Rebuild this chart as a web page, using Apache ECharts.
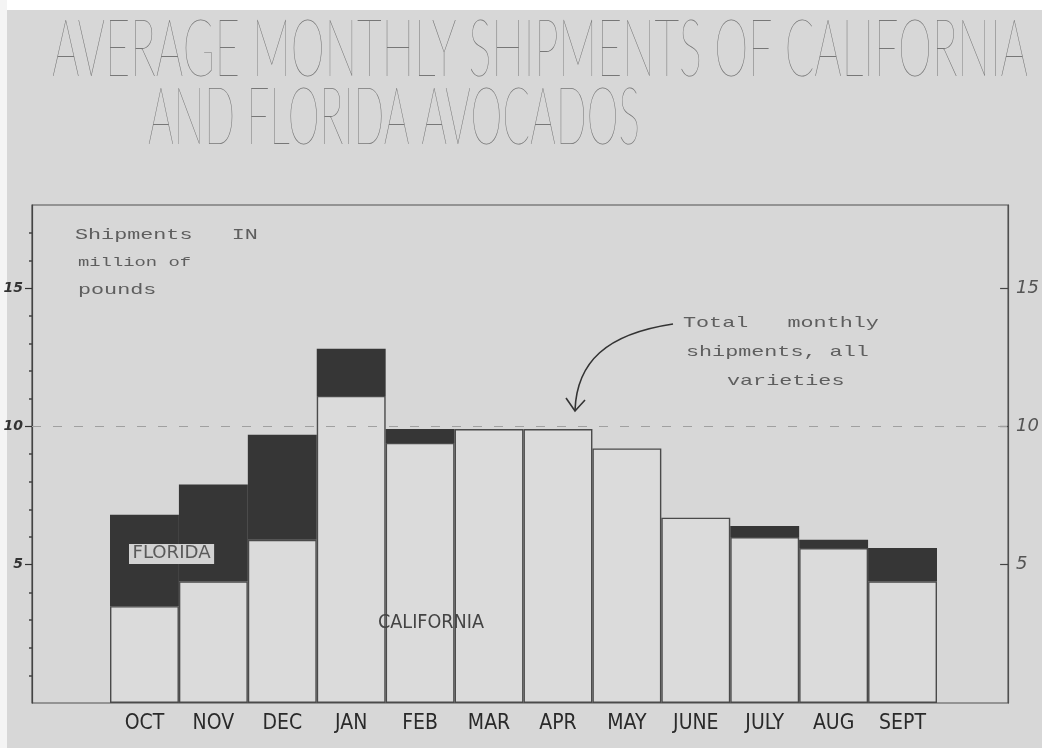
<!DOCTYPE html>
<html>
<head>
<meta charset="utf-8">
<style>
  html, body { margin: 0; padding: 0; background: #d7d7d7; }
  #chart { width: 1042px; height: 748px; }
</style>
<script src="https://cdn.jsdelivr.net/npm/echarts@6/dist/echarts.min.js"></script>
</head>
<body>
<div id="chart"></div>
<script>
// months along the bottom
const months = ['OCT', 'NOV', 'DEC', 'JAN', 'FEB', 'MAR', 'APR', 'MAY', 'JUNE', 'JULY', 'AUG', 'SEPT'];
// million pounds
const california = [3.5, 4.4, 5.9, 11.1, 9.4, 9.9, 9.9, 9.2, 6.7, 6.0, 5.6, 4.4];
const florida = [3.3, 3.5, 3.8, 1.7, 0.5, 0, 0, 0, 0, 0.4, 0.3, 1.2];
const yTicks = [5, 10, 15];

const titleLine1 = 'AVERAGE MONTHLY SHIPMENTS OF CALIFORNIA';
const titleLine2 = 'AND FLORIDA AVOCADOS';
const titleFont = '100 80px Lato';
const narrow = '"DejaVu Sans Condensed", "Liberation Sans Narrow", "Roboto Condensed", "DejaVu Sans", sans-serif';

// squeeze hand-lettered text to the width it takes in the picture
function fitScale(text, font, width) {
    const ctx = document.createElement('canvas').getContext('2d');
    ctx.font = font;
    return width / ctx.measureText(text).width;
}

const myChart = echarts.init(document.getElementById('chart'), null, { renderer: 'canvas' });

const handFont = '15px "Liberation Mono"';
const handColor = '#5e5e5e';
const floridaFont = '17px ' + narrow;
const californiaFont = '19px ' + narrow;

const options = {
    backgroundColor: '#d7d7d7',
    animation: false,
    grid: [
        // outer frame with the value scales
        { left: 32, right: 25, top: 205, bottom: 45, show: true, borderColor: '#505050', borderWidth: 1.2, backgroundColor: 'transparent' },
        // bars sit inside the frame
        { left: 110, right: 105, top: 205, bottom: 45 }
    ],
    xAxis: [
        { gridIndex: 0, type: 'value', min: 0, max: 1, show: false },
        {
            gridIndex: 1,
            type: 'category',
            data: months,
            axisLine: { show: false },
            axisTick: { show: false },
            axisLabel: {
                interval: 0,
                margin: 10,
                color: '#2a2a2a',
                fontFamily: narrow,
                fontSize: 21
            }
        }
    ],
    yAxis: [
        {
            gridIndex: 0,
            type: 'value',
            min: 0,
            max: 18,
            interval: 5,
            position: 'left',
            axisLine: { show: true, lineStyle: { color: '#444', width: 1.2 } },
            axisTick: { show: true, length: 7, customValues: yTicks, lineStyle: { color: '#333', width: 1.2 } },
            minorTick: { show: true, splitNumber: 5, length: 3, lineStyle: { color: '#444', width: 1.5 } },
            splitLine: { show: false },
            axisLabel: {
                margin: 9,
                color: '#333',
                fontStyle: 'italic',
                fontWeight: 'bold',
                fontSize: 14,
                fontFamily: '"DejaVu Sans"',
                customValues: yTicks
            }
        },
        {
            gridIndex: 0,
            type: 'value',
            min: 0,
            max: 18,
            interval: 5,
            position: 'right',
            axisLine: { show: true, lineStyle: { color: '#505050', width: 1.2 } },
            axisTick: { show: true, inside: true, length: 8, customValues: yTicks, lineStyle: { color: '#444', width: 1.2 } },
            splitLine: { show: false },
            axisLabel: {
                margin: 8,
                color: '#555',
                fontStyle: 'italic',
                fontSize: 18,
                fontFamily: '"DejaVu Sans"',
                customValues: yTicks
            }
        },
        { gridIndex: 1, type: 'value', min: 0, max: 18, show: false }
    ],
    series: [
        {
            // holds the faint dashed guide at 10
            type: 'line',
            xAxisIndex: 0,
            yAxisIndex: 0,
            data: [],
            silent: true,
            markLine: {
                silent: true,
                symbol: 'none',
                label: { show: false },
                lineStyle: { color: '#a0a0a0', type: [9, 12], width: 1 },
                data: [{ yAxis: 10 }]
            }
        },
        {
            name: 'California',
            type: 'bar',
            stack: 'total',
            xAxisIndex: 1,
            yAxisIndex: 2,
            barCategoryGap: '0%',
            data: california,
            itemStyle: { color: '#dbdbdb', borderColor: '#4a4a4a', borderWidth: 1.4 }
        },
        {
            name: 'Florida',
            type: 'bar',
            stack: 'total',
            xAxisIndex: 1,
            yAxisIndex: 2,
            barCategoryGap: '0%',
            data: florida,
            itemStyle: { color: '#363636', borderWidth: 0 }
        }
    ],
    graphic: [
        { type: 'rect', left: 0, top: 0, shape: { width: 1042, height: 10 }, style: { fill: '#ffffff' }, silent: true },
        { type: 'rect', left: 0, top: 0, shape: { width: 7, height: 748 }, style: { fill: '#f4f4f4' }, silent: true },
        {
            type: 'text', x: 52, y: 10,
            scaleX: fitScale(titleLine1, titleFont, 976),
            style: { text: titleLine1, font: titleFont, fill: '#777', verticalAlign: 'top' }
        },
        {
            type: 'text', x: 148, y: 78,
            scaleX: fitScale(titleLine2, titleFont, 492),
            style: { text: titleLine2, font: titleFont, fill: '#777', verticalAlign: 'top' }
        },
        // axis note
        { type: 'text', x: 75, y: 235, scaleX: 1.45, style: { text: 'Shipments   IN', font: handFont, fill: handColor, verticalAlign: 'middle' } },
        { type: 'text', x: 78, y: 263, scaleX: 1.45, style: { text: 'million of', font: '13px "Liberation Mono"', fill: handColor, verticalAlign: 'middle' } },
        { type: 'text', x: 78, y: 290, scaleX: 1.45, style: { text: 'pounds', font: handFont, fill: handColor, verticalAlign: 'middle' } },
        // total note with arrow
        { type: 'text', x: 683, y: 323, scaleX: 1.45, style: { text: 'Total   monthly', font: handFont, fill: handColor, verticalAlign: 'middle' } },
        { type: 'text', x: 686, y: 352, scaleX: 1.45, style: { text: 'shipments, all', font: handFont, fill: handColor, verticalAlign: 'middle' } },
        { type: 'text', x: 727, y: 381, scaleX: 1.45, style: { text: 'varieties', font: handFont, fill: handColor, verticalAlign: 'middle' } },
        {
            type: 'bezierCurve',
            shape: { x1: 673, y1: 324, x2: 575, y2: 410, cpx1: 606, cpy1: 334, cpx2: 577, cpy2: 362 },
            style: { stroke: '#333', lineWidth: 1.6, fill: null }
        },
        {
            type: 'polyline',
            shape: { points: [[566, 398], [575, 411], [585, 400]] },
            style: { stroke: '#333', lineWidth: 1.6, fill: null }
        },
        // series names written on the bars
        {
            type: 'text', x: 129, y: 554, z: 100,
            scaleX: fitScale('FLORIDA', floridaFont, 78),
            style: {
                text: 'FLORIDA', font: floridaFont, fill: '#5a5a5a',
                backgroundColor: '#d2d2d2', padding: [2, 3, 1, 3], verticalAlign: 'middle'
            }
        },
        {
            type: 'text', x: 378, y: 623, z: 100,
            scaleX: fitScale('CALIFORNIA', californiaFont, 106),
            style: { text: 'CALIFORNIA', font: californiaFont, fill: '#444', verticalAlign: 'middle' }
        }
    ]
};

myChart.setOption(options);
</script>
</body>
</html>
